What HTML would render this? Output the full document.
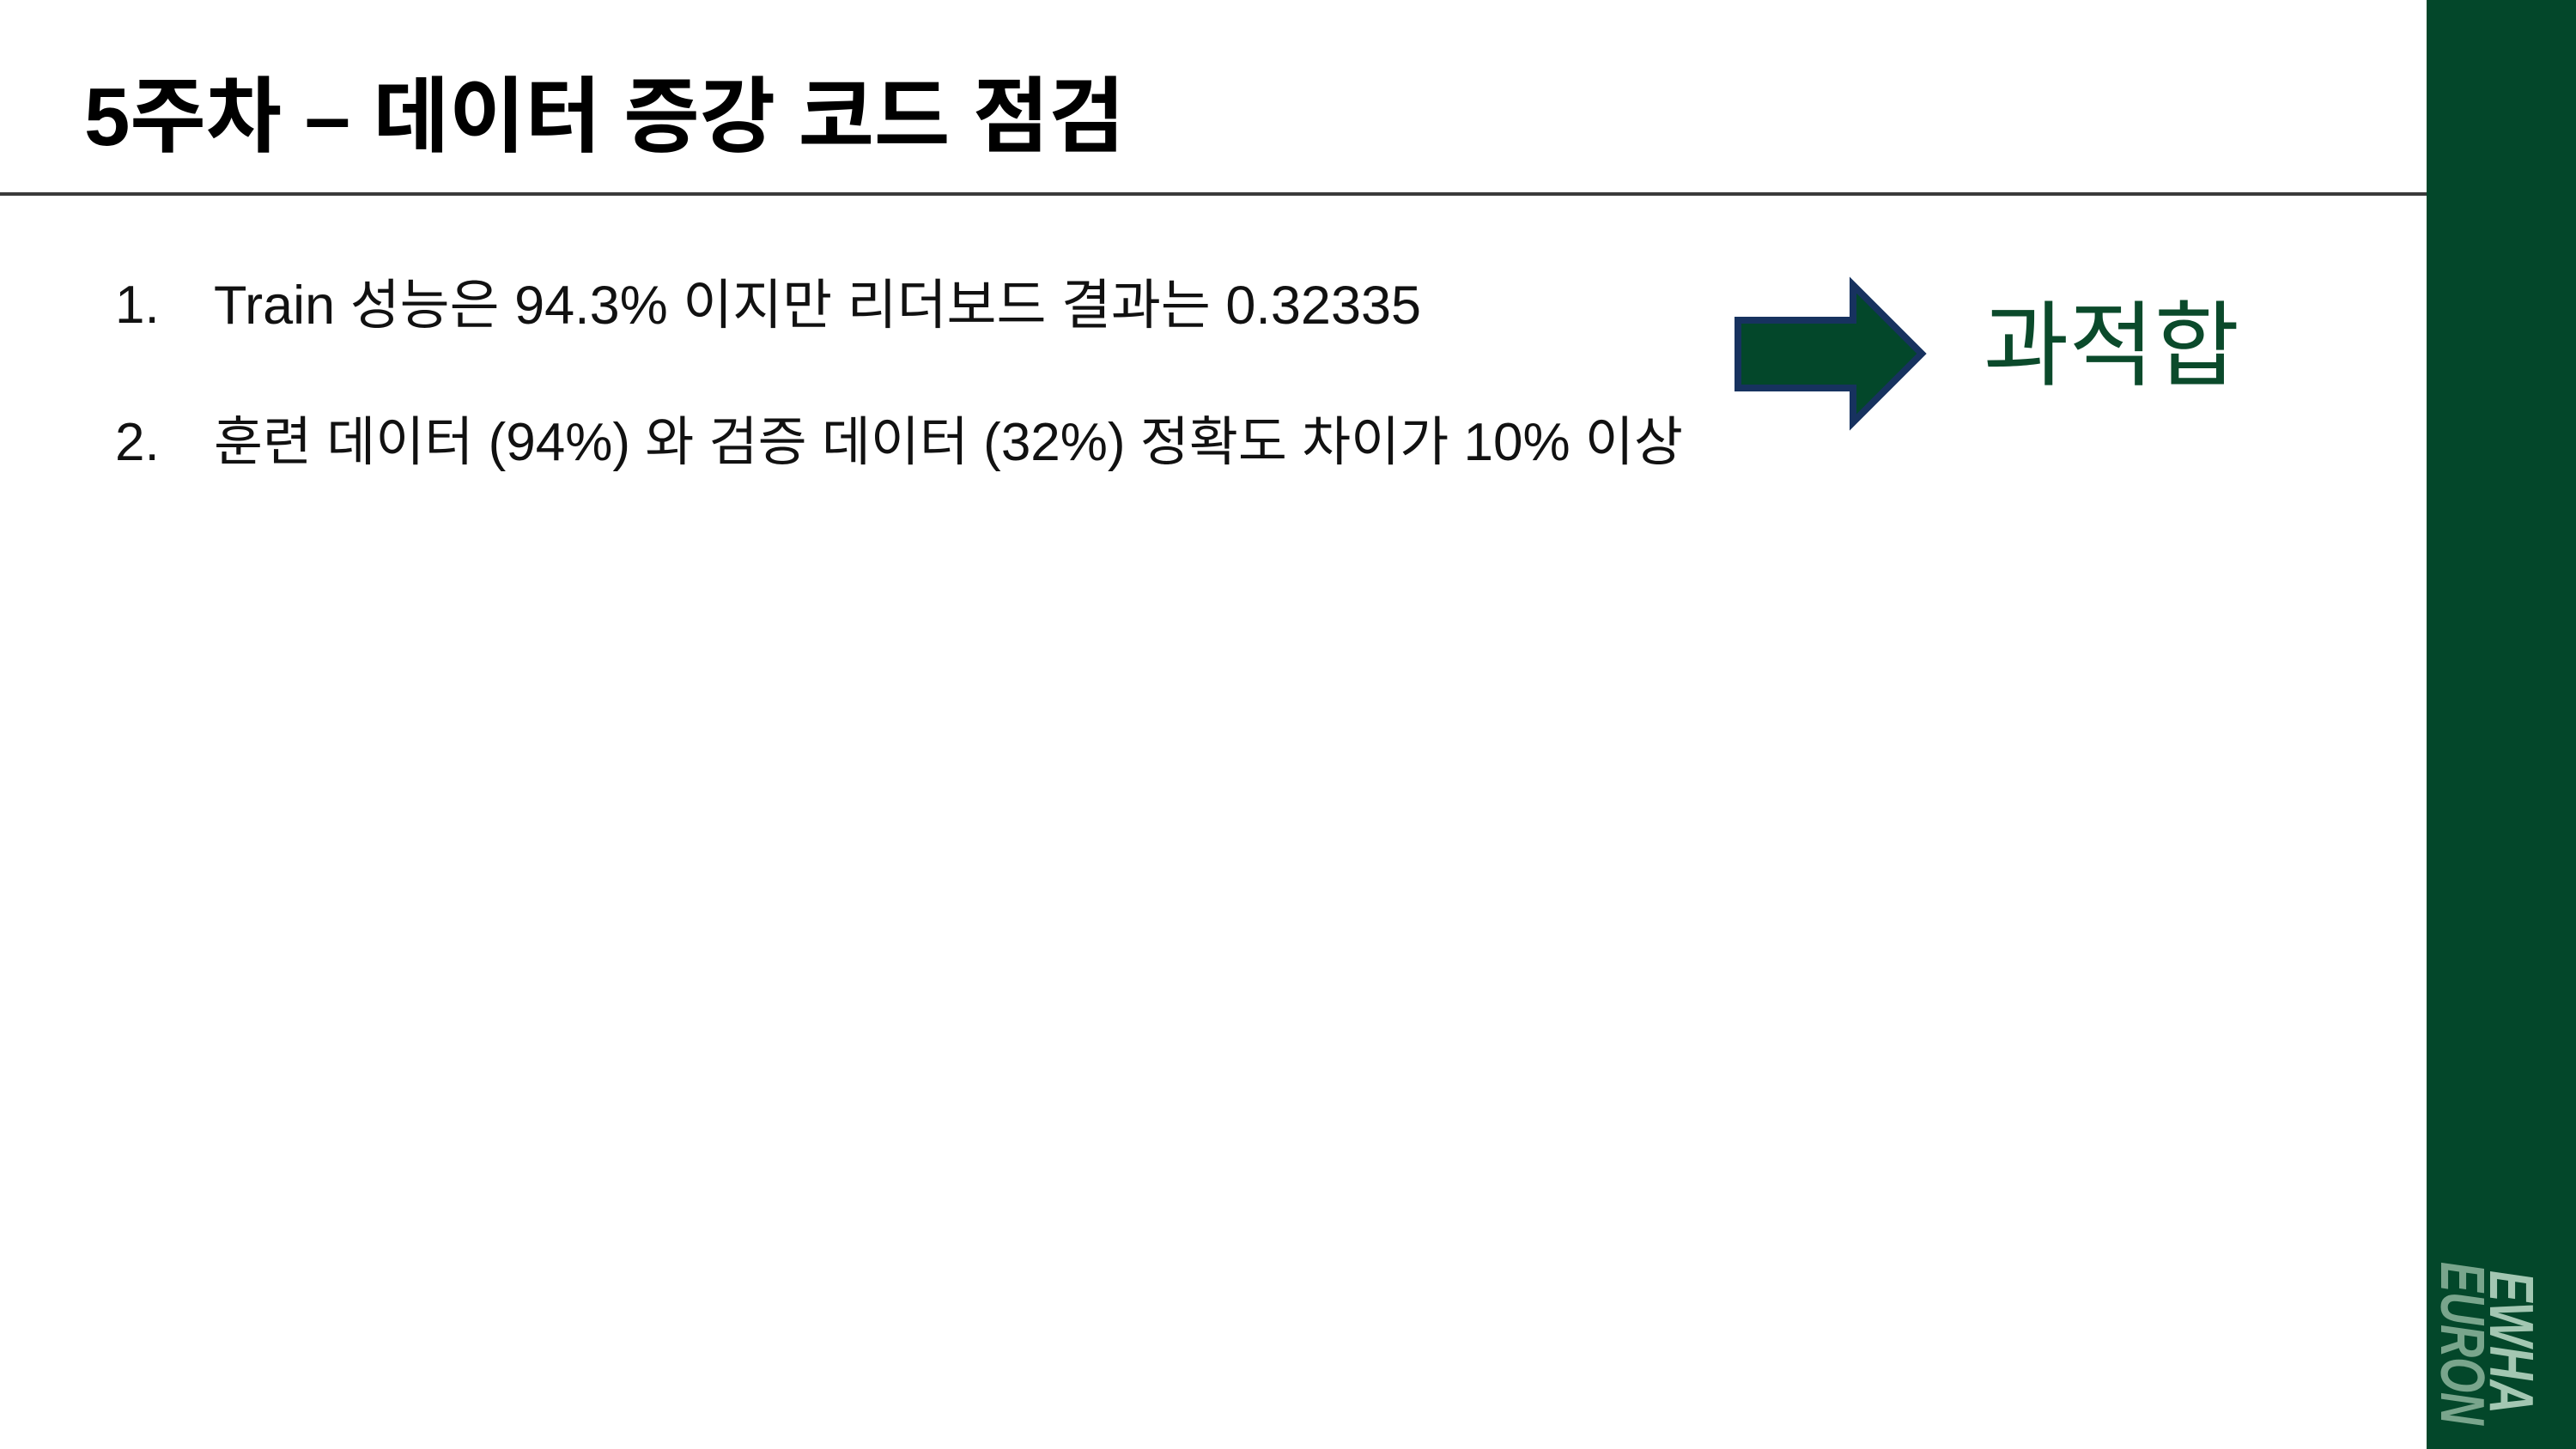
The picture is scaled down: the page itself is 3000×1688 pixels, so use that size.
<!DOCTYPE html>
<html><head><meta charset="utf-8"><style>
html,body{margin:0;padding:0;}
body{width:3000px;height:1688px;position:relative;overflow:hidden;background:#fff;font-family:"Liberation Sans","Noto Sans CJK KR",sans-serif;}
.abs{position:absolute;white-space:nowrap;}
</style></head><body>
<div class="abs" style="left:98px;top:77px;font-size:96px;font-weight:bold;color:#000;line-height:120px;">5주차 – 데이터 증강 코드 점검</div>
<div class="abs" style="left:0;top:224px;width:2826px;height:4px;background:#3a3a3a;"></div>
<div class="abs" style="left:134px;top:316px;font-size:62px;line-height:80px;color:#111;">1.</div>
<div class="abs" style="left:249px;top:316px;font-size:63px;line-height:80px;color:#111;">Train 성능은 94.3% 이지만 리더보드 결과는 0.32335</div>
<div class="abs" style="left:134px;top:476px;font-size:62px;line-height:80px;color:#111;">2.</div>
<div class="abs" style="left:249px;top:476px;font-size:62px;line-height:80px;color:#111;">훈련 데이터 (94%) 와 검증 데이터 (32%) 정확도 차이가 10% 이상</div>
<svg class="abs" style="left:0;top:0;" width="3000" height="600">
<polygon points="2024,373 2158,373 2158,332 2238,412 2158,492 2158,452 2024,452" fill="#03472a" stroke="#17325f" stroke-width="8"/>
</svg>
<div class="abs" style="left:2310px;top:338px;font-size:108px;line-height:130px;color:#0b4a2b;">과적합</div>
<div class="abs" style="left:2826px;top:0;width:174px;height:1688px;background:#03472a;"></div>
<svg class="abs" style="left:0;top:0;" width="3000" height="1688">
<text transform="translate(2900,1480) rotate(90)" font-family="Liberation Sans" font-weight="bold" font-style="italic" font-size="72" fill="#a3c7b2" textLength="167" lengthAdjust="spacingAndGlyphs">EWHA</text>
<text transform="translate(2843,1470) rotate(90)" font-family="Liberation Sans" font-weight="bold" font-style="italic" font-size="72" fill="#79a58c" textLength="190" lengthAdjust="spacingAndGlyphs">EURON</text>
</svg>
</body></html>
